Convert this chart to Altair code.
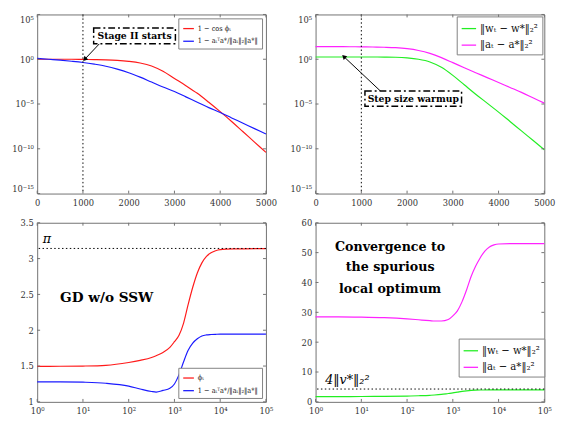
import altair as alt
import pandas as pd

SERIF = "DejaVu Serif Condensed, DejaVu Serif"
BOLD = "DejaVu Serif"
FRAME = "#707070"
LABEL = "#333333"

# ---------------- data (top panels: values stored as log10 exponents) ----------------
t_top = [0, 250, 500, 750, 1000, 1250, 1500, 1750, 2000, 2250, 2500,
         2750, 3000, 3250, 3500, 3750, 4000, 4250, 4500, 4750, 5000]
tl_cos_exp = [0.0, 0.0, 0.0, 0.0, -0.02, -0.04, -0.07, -0.13, -0.24, -0.42, -0.75,
              -1.35, -2.15, -2.95, -3.8, -4.8, -5.85, -6.95, -8.1, -9.25, -10.4]
tl_ang_exp = [0.1, 0.0, -0.1, -0.22, -0.36, -0.55, -0.78, -1.1, -1.5, -2.0, -2.55,
              -3.1, -3.6, -4.2, -4.8, -5.4, -5.95, -6.55, -7.15, -7.75, -8.35]
tr_w_exp = [0.25, 0.25, 0.25, 0.25, 0.25, 0.25, 0.24, 0.22, 0.15, 0.0, -0.3,
            -0.9, -1.8, -2.85, -3.9, -4.9, -5.9, -6.95, -8.0, -9.05, -10.1]
tr_a_exp = [1.41, 1.41, 1.41, 1.40, 1.39, 1.37, 1.34, 1.29, 1.18, 0.98, 0.65,
            0.18, -0.38, -0.95, -1.5, -2.05, -2.6, -3.15, -3.7, -4.3, -4.9]

# bottom panels: x stored as log10(t)
lt = [0, 0.5, 1, 1.5, 2, 2.25, 2.5, 2.6, 2.75, 2.9, 3.0, 3.1, 3.2, 3.3, 3.4,
      3.5, 3.6, 3.7, 3.8, 3.9, 4.0, 4.3, 5.0]
bl_phi = [1.495, 1.497, 1.50, 1.51, 1.55, 1.58, 1.62, 1.645, 1.69, 1.76, 1.84, 1.93,
          2.10, 2.36, 2.60, 2.80, 2.94, 3.03, 3.08, 3.11, 3.125, 3.135, 3.14]
bl_ang = [1.28, 1.28, 1.275, 1.26, 1.22, 1.18, 1.145, 1.137, 1.16, 1.19, 1.25, 1.38,
          1.56, 1.72, 1.82, 1.88, 1.92, 1.935, 1.94, 1.943, 1.945, 1.945, 1.945]
br_w = [1.75, 1.77, 1.8, 1.85, 1.95, 2.05, 2.2, 2.3, 2.5, 2.8, 3.0, 3.25,
        3.5, 3.7, 3.85, 3.93, 3.97, 3.99, 4.0, 4.0, 4.0, 4.0, 4.0]
br_a = [28.5, 28.5, 28.4, 28.2, 27.8, 27.5, 27.2, 27.1, 27.1, 27.6, 28.8, 30.5,
        33.5, 37.5, 42.0, 45.5, 48.3, 50.5, 51.9, 52.6, 52.9, 53.0, 53.0]

pi_level = [3.14159]
v_level = [4.3]
stage_line = [1000]

TL_NAMES = ["1 − cos ϕₜ", "1 − aₜᵀa*/‖aₜ‖₂‖a*‖"]
TR_NAMES = ["‖wₜ − w*‖₂²", "‖aₜ − a*‖₂²"]
BL_NAMES = ["ϕₜ", "1 − aₜᵀa*/‖aₜ‖₂‖a*‖"]
BR_NAMES = ["‖wₜ − w*‖₂²", "‖aₜ − a*‖₂²"]
C_RED, C_BLUE, C_GREEN, C_MAG = "#ff1a1a", "#1a1aff", "#22ee22", "#ff22ff"

top_xticks = [0, 1000, 2000, 3000, 4000, 5000]
top_yticks = [-15, -10, -5, 0, 5]
bot_xticks = [0, 1, 2, 3, 4, 5]
bl_yticks = [1, 1.5, 2, 2.5, 3, 3.5]
br_yticks = [0, 10, 20, 30, 40, 50, 60]

W, H = 235, 184
TL = 3

SUP = {"0": "⁰", "1": "¹", "2": "²", "3": "³", "4": "⁴", "5": "⁵", "-": "⁻"}


def pow_expr(vals):
    parts = []
    for v in vals:
        s = "10" + "".join(SUP[c] for c in str(v))
        parts.append(f"datum.value == {v} ? '{s}'")
    return " : ".join(parts) + " : ''"


def long_df(x, series):
    rows = []
    for name, ys in series:
        for xi, yi in zip(x, ys):
            rows.append({"x": xi, "y": yi, "series": name})
    return pd.DataFrame(rows)


def legend(size, sym=200, **kw):
    return alt.Legend(title=None, fillColor="white", strokeColor="#808080",
                      padding=4, symbolType="stroke", symbolSize=sym,
                      symbolStrokeWidth=1.3, labelFont=SERIF,
                      labelFontSize=size, labelOffset=3,
                      labelLimit=300, rowPadding=3, labelColor="#111",
                      **kw)


def ax(values, expr=None, fmt=None, flush=False):
    kw = dict(values=values, domain=False, ticks=False, grid=False, labelFont=SERIF,
              labelFontSize=9.5, labelColor=LABEL, labelPadding=4, title=None,
              labelOverlap=False, labelFlush=flush)
    if expr:
        kw["labelExpr"] = expr
    if fmt:
        kw["format"] = fmt
    return alt.Axis(**kw)


class P:
    """axes + scales of one panel, used by every layer so merged axes keep their settings"""

    def __init__(self, xdom, ydom, xax, yax):
        self.xs = alt.Scale(domain=xdom, nice=False, zero=False)
        self.ys = alt.Scale(domain=ydom, nice=False, zero=False)
        self.xax, self.yax = xax, yax

    def X(self, f):
        return alt.X(f, scale=self.xs, axis=self.xax, title=None)

    def Y(self, f):
        return alt.Y(f, scale=self.ys, axis=self.yax, title=None)


def ticks(p, xt, yt):
    xd = pd.DataFrame({"v": xt})
    yd = pd.DataFrame({"v": yt})
    m = dict(color=FRAME, strokeWidth=1)
    return [
        alt.Chart(xd).mark_rule(**m).encode(x=p.X("v:Q"), y=alt.value(H), y2=alt.value(H - TL)),
        alt.Chart(xd).mark_rule(**m).encode(x=p.X("v:Q"), y=alt.value(0), y2=alt.value(TL)),
        alt.Chart(yd).mark_rule(**m).encode(y=p.Y("v:Q"), x=alt.value(0), x2=alt.value(TL)),
        alt.Chart(yd).mark_rule(**m).encode(y=p.Y("v:Q"), x=alt.value(W), x2=alt.value(W - TL)),
    ]


def lines(p, df, names, colors, leg):
    return alt.Chart(df).mark_line(strokeWidth=1.2, interpolate="monotone").encode(
        x=p.X("x:Q"), y=p.Y("y:Q"),
        color=alt.Color("series:N", scale=alt.Scale(domain=names, range=colors), legend=leg),
    )


def label(p, xs, ys, texts, **mk):
    d = pd.DataFrame({"x": xs, "y": ys, "t": texts})
    return alt.Chart(d).mark_text(color="black", **mk).encode(x=p.X("x:Q"), y=p.Y("y:Q"), text="t:N")


def textbox(p, x0, x1, y0, y1, text, size):
    box = pd.DataFrame({"x": [x0], "x2": [x1], "y": [y0], "y2": [y1]})
    rect = alt.Chart(box).mark_rect(fill="white", stroke="black", strokeWidth=1.5,
                                    strokeDash=[7, 3, 2, 3]).encode(
        x=p.X("x:Q"), x2="x2:Q", y=p.Y("y:Q"), y2="y2:Q")
    txt = label(p, [(x0 + x1) / 2], [(y0 + y1) / 2], [text], font=BOLD, fontWeight="bold", fontSize=size)
    return [rect, txt]


def arrow(p, xa, ya, xb, yb, ang):
    d = pd.DataFrame({"x": [xa], "y": [ya], "x2": [xb], "y2": [yb]})
    r = alt.Chart(d).mark_rule(color="black", strokeWidth=1).encode(
        x=p.X("x:Q"), y=p.Y("y:Q"), x2="x2:Q", y2="y2:Q")
    h = alt.Chart(pd.DataFrame({"x": [xb], "y": [yb]})).mark_point(
        shape="triangle-up", filled=True, size=28, angle=ang, color="black", opacity=1).encode(
        x=p.X("x:Q"), y=p.Y("y:Q"))
    return [r, h]


def vrule(p, vals):
    return alt.Chart(pd.DataFrame({"x": vals})).mark_rule(
        color="black", strokeDash=[1.5, 2.5], strokeWidth=1).encode(x=p.X("x:Q"))


def hrule(p, vals):
    return alt.Chart(pd.DataFrame({"y": vals})).mark_rule(
        color="black", strokeDash=[1.5, 2.5], strokeWidth=1).encode(y=p.Y("y:Q"))


# ---------------- top-left ----------------
p_tl = P([0, 5000], [-15, 5], ax(top_xticks, fmt="d"), ax(top_yticks, pow_expr(top_yticks), flush=True))
tl_df = long_df(t_top, [(TL_NAMES[0], tl_cos_exp), (TL_NAMES[1], tl_ang_exp)])
tl = alt.layer(
    lines(p_tl, tl_df, TL_NAMES, [C_RED, C_BLUE], legend(7.5, 120, orient="top-right", offset=4)),
    vrule(p_tl, stage_line),
    *arrow(p_tl, 1362, 1.74, 1040, 0.0, 223),
    *textbox(p_tl, 1234, 3021, 1.74, 3.48, "Stage II starts", 9.5),
    *ticks(p_tl, top_xticks, top_yticks),
).properties(width=W, height=H)

# ---------------- top-right ----------------
p_tr = P([0, 5000], [-15, 5], ax(top_xticks, fmt="d"), ax(top_yticks, pow_expr(top_yticks), flush=True))
tr_df = long_df(t_top, [(TR_NAMES[0], tr_w_exp), (TR_NAMES[1], tr_a_exp)])
tr = alt.layer(
    lines(p_tr, tr_df, TR_NAMES, [C_GREEN, C_MAG], legend(11.5, 220, orient="top-right", offset=2)),
    vrule(p_tr, stage_line),
    *arrow(p_tr, 1432, -3.62, 617, 0.3, 313),
    *textbox(p_tr, 1079, 3191, -5.25, -3.55, "Step size warmup", 9.5),
    *ticks(p_tr, top_xticks, top_yticks),
).properties(width=W, height=H)

# ---------------- bottom-left ----------------
p_bl = P([0, 5], [1, 3.5], ax(bot_xticks, pow_expr(bot_xticks)), ax(bl_yticks, fmt="~g"))
bl_df = long_df(lt, [(BL_NAMES[0], bl_phi), (BL_NAMES[1], bl_ang)])
bl = alt.layer(
    lines(p_bl, bl_df, BL_NAMES, [C_RED, C_BLUE], legend(7.5, 120, orient="bottom-right", offset=4)),
    hrule(p_bl, pi_level),
    label(p_bl, [0.12], [3.27], ["π"], font=BOLD, fontStyle="italic", fontSize=13, align="left"),
    label(p_bl, [1.52], [2.45], ["GD w/o SSW"], font=BOLD, fontWeight="bold", fontSize=14),
    *ticks(p_bl, bot_xticks, bl_yticks),
).properties(width=W, height=H)

# ---------------- bottom-right ----------------
p_br = P([0, 5], [0, 60], ax(bot_xticks, pow_expr(bot_xticks)), ax(br_yticks, fmt="d"))
br_df = long_df(lt, [(BR_NAMES[0], br_w), (BR_NAMES[1], br_a)])
br = alt.layer(
    lines(p_br, br_df, BR_NAMES, [C_GREEN, C_MAG], legend(11.5, 220, orient="none", legendX=147, legendY=119)),
    hrule(p_br, v_level),
    label(p_br, [0.21], [7.3], ["4‖v*‖₂²"], font=BOLD, fontStyle="italic", fontSize=13, align="left"),
    label(p_br, [1.63] * 3, [51.9, 45.2, 37.8], ["Convergence to", "the spurious", "local optimum"],
          font=BOLD, fontWeight="bold", fontSize=13),
    *ticks(p_br, bot_xticks, br_yticks),
).properties(width=W, height=H)

chart = alt.concat(tl, tr, bl, br, columns=2, spacing={"row": 30, "column": 51}, bounds="flush").properties(
    padding={"left": 3, "top": 0, "right": 0, "bottom": 0}
).configure_view(stroke=FRAME, strokeWidth=1).resolve_scale(color="independent")

chart.save("out.html", embed_options={"renderer": "svg", "actions": False})
